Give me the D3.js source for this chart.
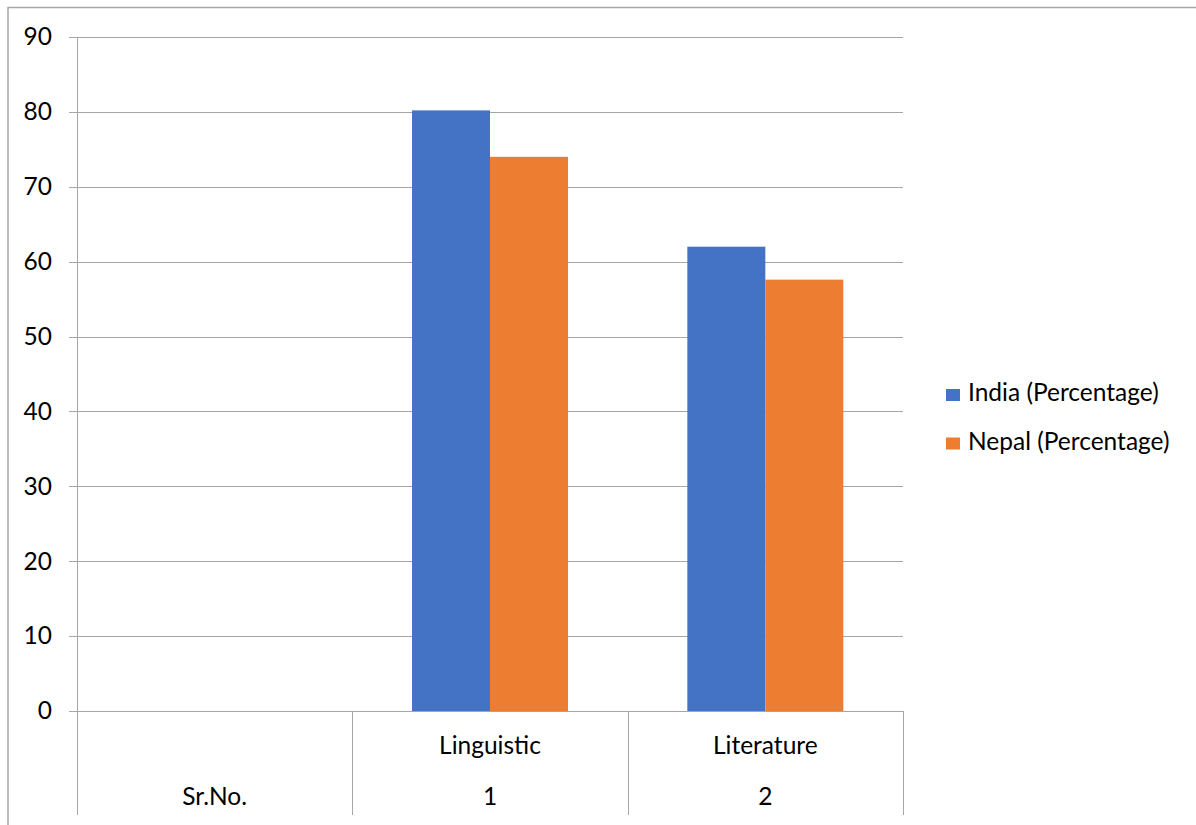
<!DOCTYPE html>
<html>
<head>
<meta charset="utf-8">
<script src="https://cdn.jsdelivr.net/npm/d3@7"></script>
<style>
  html, body { margin: 0; padding: 0; background: #fff; }
  svg { display: block; }
  text { font-family: Lato, "Open Sans", sans-serif; fill: #000; }
</style>
</head>
<body>
<svg id="chart" width="1196" height="825"></svg>
<script>
const categories = ["Sr.No.", "1", "2"];
const subLabels = ["", "Linguistic", "Literature"];
const seriesNames = ["India (Percentage)", "Nepal (Percentage)"];
const indiaValues = [null, 80.2, 62];
const nepalValues = [null, 74, 57.6];
const yTicks = [0, 10, 20, 30, 40, 50, 60, 70, 80, 90];
const colors = ["#4472C4", "#ED7D31"];

(function () {
const svg = d3.select("#chart");
const plotLeft = 77, plotRight = 903, plotTop = 37, plotBottom = 711, axisBottom = 815;
const fontSize = 24.5;

// outer border
svg.append("rect").attr("x", 8).attr("y", 7.5).attr("width", 1300).attr("height", 1000)
  .attr("fill", "none").attr("stroke", "#a6a6a6").attr("stroke-width", 1.5);

const y = d3.scaleLinear().domain([0, 90]).range([plotBottom, plotTop]);
const x = d3.scaleBand().domain(categories).range([plotLeft, plotRight]).paddingInner(0).paddingOuter(0);
const xs = d3.scaleBand().domain(seriesNames).range([0, x.bandwidth()]).paddingInner(0).paddingOuter(0.765);

// gridlines
svg.append("g").selectAll("line").data(yTicks).join("line")
  .attr("x1", plotLeft - 8).attr("x2", plotRight)
  .attr("y1", d => Math.round(y(d)) + 0.5).attr("y2", d => Math.round(y(d)) + 0.5)
  .attr("stroke", "#a6a6a6").attr("stroke-width", 1);

// y axis labels
const yAxis = d3.axisLeft(y).tickValues(yTicks).tickSize(0).tickPadding(25);
const gy = svg.append("g").attr("transform", `translate(${plotLeft},0)`).call(yAxis);
gy.select(".domain").remove();
gy.selectAll("text").style("font-size", fontSize + "px").style("font-family", "Lato, sans-serif").attr("fill", "#000");

// bars
const series = [indiaValues, nepalValues];
series.forEach((vals, si) => {
  svg.append("g").selectAll("rect")
    .data(categories.map((c, i) => ({ c, v: vals[i] })).filter(d => d.v != null))
    .join("rect")
    .attr("x", d => x(d.c) + xs(seriesNames[si]))
    .attr("width", xs.bandwidth())
    .attr("y", d => y(d.v))
    .attr("height", d => y(0) - y(d.v))
    .attr("fill", colors[si]);
});

// vertical axis line and category separators
svg.append("line").attr("x1", plotLeft + 0.5).attr("x2", plotLeft + 0.5).attr("y1", plotTop).attr("y2", axisBottom)
  .attr("stroke", "#a6a6a6").attr("stroke-width", 1);
const seps = categories.map(c => x(c) + x.bandwidth());
svg.append("g").selectAll("line").data(seps).join("line")
  .attr("x1", d => Math.round(d) + 0.5).attr("x2", d => Math.round(d) + 0.5)
  .attr("y1", plotBottom).attr("y2", axisBottom)
  .attr("stroke", "#a6a6a6").attr("stroke-width", 1);

// category labels (two levels)
svg.append("g").selectAll("text").data(categories.map((c, i) => ({ c, s: subLabels[i] }))).join("text")
  .attr("x", d => x(d.c) + x.bandwidth() / 2).attr("y", 754)
  .attr("text-anchor", "middle").style("font-size", fontSize + "px").text(d => d.s);
svg.append("g").selectAll("text").data(categories).join("text")
  .attr("x", d => x(d) + x.bandwidth() / 2).attr("y", 805)
  .attr("text-anchor", "middle").style("font-size", fontSize + "px").text(d => d);

// legend
const lg = svg.append("g").attr("transform", "translate(946,0)");
seriesNames.forEach((n, i) => {
  const base = 401 + i * 48.5;
  lg.append("rect").attr("x", 0).attr("y", base - 12).attr("width", 14).attr("height", 12).attr("fill", colors[i]);
  lg.append("text").attr("x", 22).attr("y", base).style("font-size", fontSize + "px").text(n);
});
})();
</script>
</body>
</html>
